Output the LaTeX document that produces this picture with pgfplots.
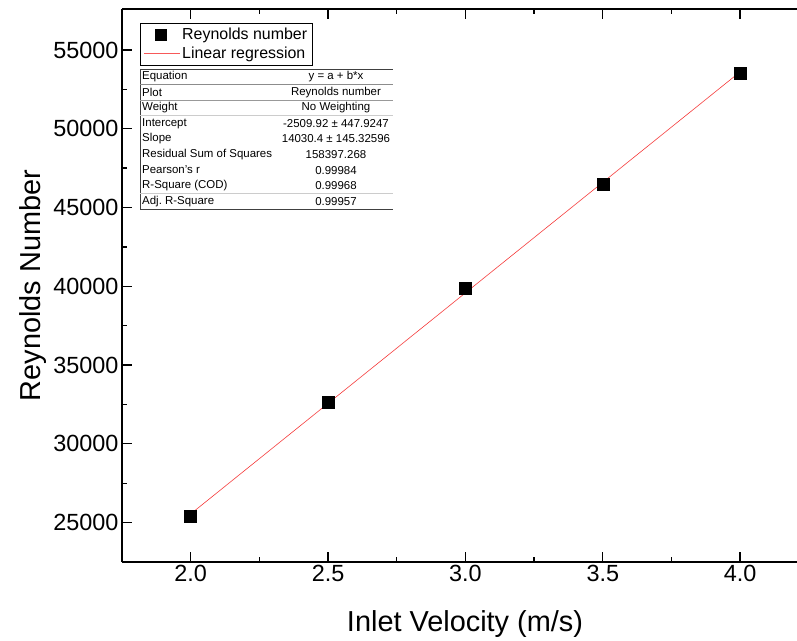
\documentclass[border=0pt]{standalone}
\usepackage{fontspec}
\setmainfont{Liberation Sans}
\usepackage{pgfplots}
\pgfplotsset{compat=1.18}
\definecolor{regred}{RGB}{245,60,60}
\pgfplotsset{
  marklegend/.style={legend image code/.code={\draw[black, fill=black, mark size=5.5bp] plot[mark=square*] coordinates {(17bp,0bp)};}},
  linelegend/.style={legend image code/.code={\draw[regred!85, line width=0.8bp] (0bp,0bp) -- (36bp,0bp);}}
}
\begin{document}
\begin{tikzpicture}
\begin{axis}[
  scale only axis, width=675bp, height=553bp,
  xmin=1.75, xmax=4.207, ymin=22500, ymax=57600,
  axis x line=box, axis y line=left,
  axis line style={-, line width=1.3bp},
  xtick={2,2.5,3,3.5,4}, minor x tick num=1,
  ytick={25000,30000,35000,40000,45000,50000,55000}, minor y tick num=1,
  tick align=inside, major tick length=10bp, minor tick length=5bp,
  tick style={black, line width=1.3bp},
  scaled y ticks=false,
  /pgf/number format/assume math mode=true,
  yticklabel style={/pgf/number format/.cd, fixed, set thousands separator={}},
  xticklabel style={/pgf/number format/.cd, fixed, fixed zerofill, precision=1},
  tick label style={font=\fontsize{23.5}{27}\selectfont},
  label style={font=\fontsize{29}{34}\selectfont},
  xlabel={Inlet Velocity (m/s)}, ylabel={Reynolds Number},
  xlabel style={xshift=5.5bp, yshift=-22bp},
  legend style={at={(0.0267,0.9747)}, anchor=north west, font=\fontsize{16}{19}\selectfont,
    draw=black, line width=0.8bp, inner xsep=3bp, inner ysep=3bp, row sep=1.5bp},
  legend cell align=left,
]
\addplot[only marks, mark=square*, mark size=6bp, black, marklegend]
  coordinates {(2,25400)(2.5,32620)(3,39885)(3.5,46470)(4,53550)};
\addlegendentry{Reynolds number}
\addplot[regred, line width=0.6bp, linelegend]
  coordinates {(2,25550.88)(4,53611.68)};
\addlegendentry{Linear regression}
\coordinate (sw) at (rel axis cs:0,0);
\coordinate (ne) at (rel axis cs:1,1);
\coordinate (nw) at (rel axis cs:0,1);
\end{axis}
\begin{scope}[shift={(nw)}, x=1bp, y=1bp, font=\fontsize{11.5}{13}\selectfont]
  \def\rh{15.55}
  \foreach \i/\a/\b in {1/Equation/{y = a + b*x}, 2/Plot/Reynolds number, 3/Weight/No Weighting,
     4/Intercept/{-2509.92 ± 447.9247}, 5/Slope/{14030.4 ± 145.32596},
     6/Residual Sum of Squares/158397.268, 7/Pearson's r/0.99984,
     8/R-Square (COD)/0.99968, 9/Adj.\ R-Square/0.99957} {
    \node[anchor=west, inner sep=0pt] at (20, {-60-(\i-0.5)*\rh}) {\a};
    \node[anchor=center, inner sep=0pt] at (214, {-60-(\i-0.5)*\rh}) {\b};
  }
  \draw[black!75, line width=0.9bp] (18,-60) -- (271,-60);
  \draw[black!75, line width=0.9bp] (18,-60) -- (18,-200);
  \draw[black!75, line width=0.9bp] (18,-200) -- (271,-200);
  \draw[black!45, line width=1.6bp] (18,{-60-\rh}) -- (271,{-60-\rh});
  \draw[black!40, line width=0.9bp] (18,{-60-2*\rh}) -- (271,{-60-2*\rh});
  \draw[black!20, line width=0.8bp] (18,{-60-3*\rh}) -- (271,{-60-3*\rh});
  \draw[black!20, line width=0.8bp] (18,{-60-8*\rh}) -- (271,{-60-8*\rh});
\end{scope}
\pgfresetboundingbox
\path ([xshift=-122bp,yshift=-79bp]sw) rectangle ([yshift=9bp]ne);
\end{tikzpicture}
\end{document}
